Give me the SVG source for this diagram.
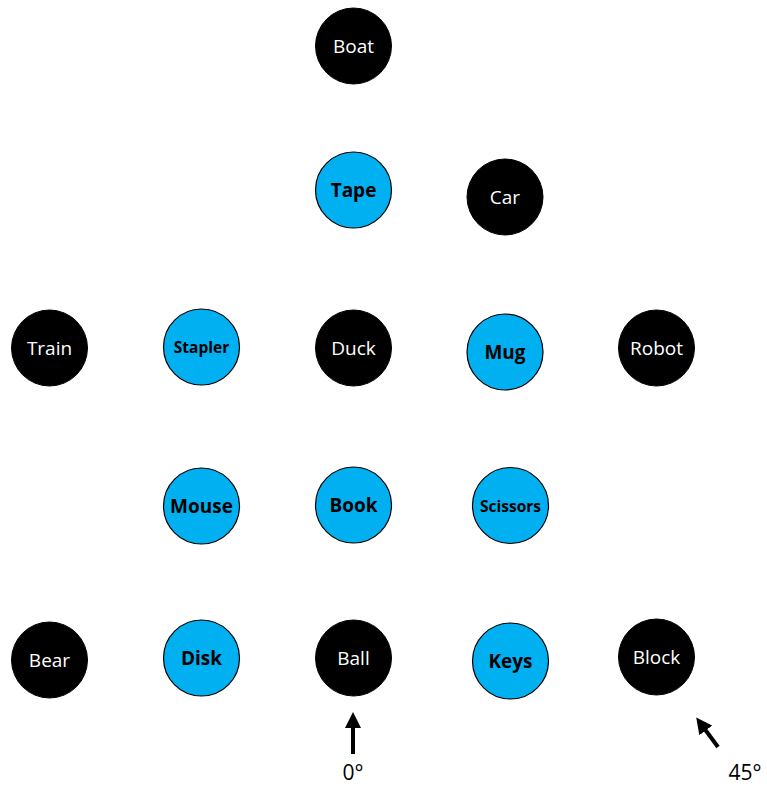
<svg xmlns="http://www.w3.org/2000/svg" width="767" height="788" viewBox="0 0 767 788">
<style>
.dark circle{fill:#000;stroke:#000;stroke-width:1}
.blue circle{fill:#00b0f0;stroke:#000;stroke-width:1.2}
text{font-family:"Open Sans","Liberation Sans",sans-serif;text-anchor:middle;dominant-baseline:central}
.dark text{fill:#fff;font-size:19px}
.blue text{fill:#000;font-size:19px;font-weight:bold}
.blue text.sm{font-size:15.5px}
.lbl{font-size:21px;fill:#000;dominant-baseline:auto}
</style>
<defs>
<marker id="ah" markerWidth="4" markerHeight="4" refX="2" refY="2" orient="auto" markerUnits="strokeWidth" viewBox="0 0 4 4"><path d="M0,0 L4,2 L0,4 Z" fill="#000"/></marker>
</defs>
<g id="boat" class="dark"><circle cx="353.5" cy="46" r="38"/><text x="353.5" y="46">Boat</text></g>
<g id="tape" class="blue"><circle cx="353.5" cy="190" r="38"/><text x="353.5" y="190">Tape</text></g>
<g id="car" class="dark"><circle cx="505" cy="197" r="38"/><text x="505" y="197">Car</text></g>
<g id="train" class="dark"><circle cx="49.5" cy="348" r="38"/><text x="49.5" y="348">Train</text></g>
<g id="stapler" class="blue"><circle cx="201.5" cy="347" r="38"/><text class="sm" x="201.5" y="347">Stapler</text></g>
<g id="duck" class="dark"><circle cx="353.5" cy="348" r="38"/><text x="353.5" y="348">Duck</text></g>
<g id="mug" class="blue"><circle cx="505" cy="352" r="38"/><text x="505" y="352">Mug</text></g>
<g id="robot" class="dark"><circle cx="656.5" cy="348" r="38"/><text x="656.5" y="348">Robot</text></g>
<g id="mouse" class="blue"><circle cx="201.5" cy="506" r="38"/><text x="201.5" y="506">Mouse</text></g>
<g id="book" class="blue"><circle cx="353.5" cy="505" r="38"/><text x="353.5" y="505">Book</text></g>
<g id="scissors" class="blue"><circle cx="510.5" cy="505.5" r="38"/><text class="sm" x="510.5" y="505.5">Scissors</text></g>
<g id="bear" class="dark"><circle cx="49.5" cy="660" r="38"/><text x="49.5" y="660">Bear</text></g>
<g id="disk" class="blue"><circle cx="201.5" cy="658" r="38"/><text x="201.5" y="658">Disk</text></g>
<g id="ball" class="dark"><circle cx="353.5" cy="658" r="38"/><text x="353.5" y="658">Ball</text></g>
<g id="keys" class="blue"><circle cx="510.5" cy="661" r="38"/><text x="510.5" y="661">Keys</text></g>
<g id="block" class="dark"><circle cx="656.5" cy="657" r="38"/><text x="656.5" y="657">Block</text></g>
<g id="connectors" stroke="#000" stroke-width="4" fill="none">
<line x1="353" y1="754" x2="353" y2="720" marker-end="url(#ah)"/>
<line x1="718" y1="747" x2="701" y2="724" marker-end="url(#ah)"/>
</g>
<text class="lbl" x="353" y="780">0°</text>
<text class="lbl" x="745" y="780">45°</text>
</svg>
